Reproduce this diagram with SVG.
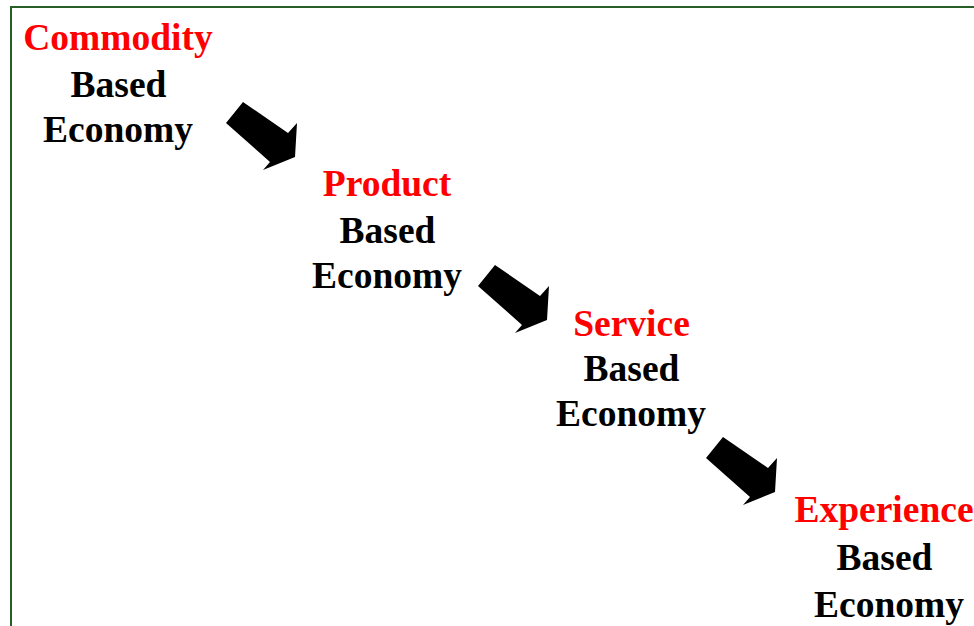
<svg xmlns="http://www.w3.org/2000/svg" width="974" height="626" viewBox="0 0 974 626">
  <style>
    .lbl { font-family: "Liberation Serif", "Times New Roman", serif; font-weight: bold; font-size: 37.5px; text-anchor: middle; }
    .key { fill: #ff0000; }
    .sub { fill: #000000; }
    .arrow { fill: #000000; }
  </style>
  <defs>
    <!-- block arrow pointing down-right, origin at tail top corner -->
    <polygon id="blockArrow" points="0,0 45,31 54,21 52,55 20,68 27,60 -17,21"/>
  </defs>

  <rect width="974" height="626" fill="#ffffff"/>
  <!-- frame -->
  <rect x="11" y="7" width="1000" height="660" fill="none" stroke="#275e27" stroke-width="2"/>

  <g id="commodity">
    <text class="lbl key" x="118" y="50">Commodity</text>
    <text class="lbl sub" x="118.5" y="97">Based</text>
    <text class="lbl sub" x="118" y="142">Economy</text>
  </g>

  <g id="product">
    <text class="lbl key" x="387" y="196">Product</text>
    <text class="lbl sub" x="387.5" y="243">Based</text>
    <text class="lbl sub" x="387" y="288">Economy</text>
  </g>

  <g id="service">
    <text class="lbl key" x="631.5" y="336">Service</text>
    <text class="lbl sub" x="631.5" y="381">Based</text>
    <text class="lbl sub" x="631" y="426">Economy</text>
  </g>

  <g id="experience">
    <text class="lbl key" x="884" y="522">Experience</text>
    <text class="lbl sub" x="884.5" y="570">Based</text>
    <text class="lbl sub" x="889" y="617">Economy</text>
  </g>

  <g id="connectors" class="arrow">
    <use href="#blockArrow" x="243" y="102"/>
    <use href="#blockArrow" x="495" y="265"/>
    <use href="#blockArrow" x="723" y="437"/>
  </g>
</svg>
